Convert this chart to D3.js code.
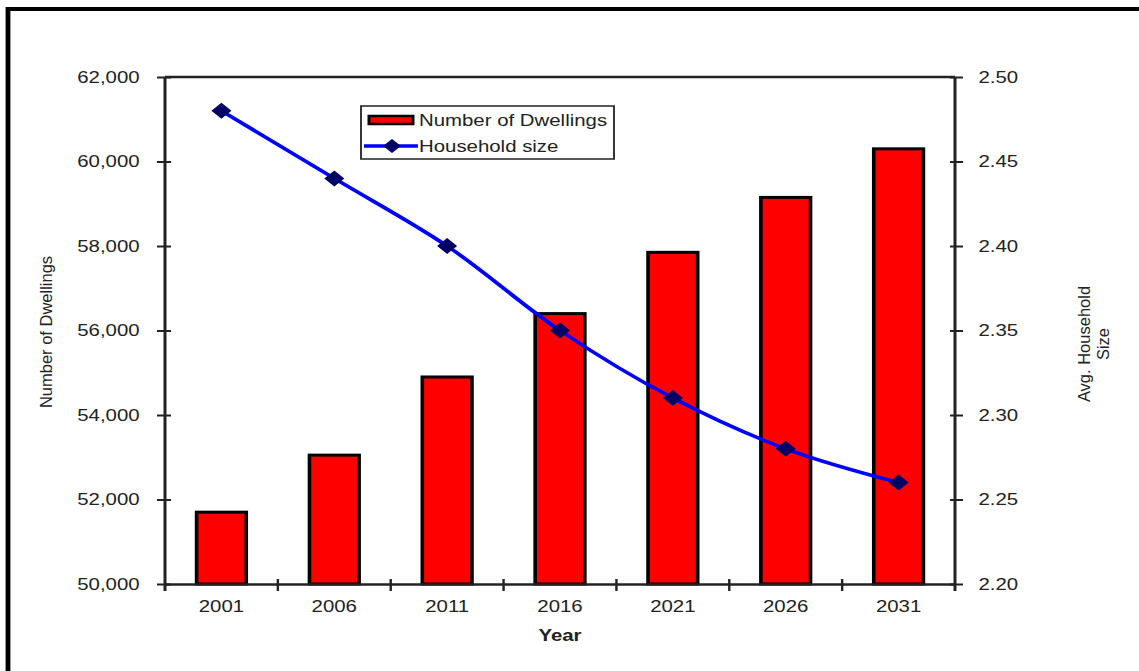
<!DOCTYPE html>
<html>
<head>
<meta charset="utf-8">
<script src="https://cdn.jsdelivr.net/npm/d3@7"></script>
<style>
  html, body { margin: 0; padding: 0; background: #fff; }
  svg { display: block; }
  text { font-family: "Liberation Sans", Arial, sans-serif; fill: #222; }
</style>
</head>
<body>
<div id="chart"></div>
<script>
// Projected dwellings and average household size, 2001–2031
const years = ["2001", "2006", "2011", "2016", "2021", "2026", "2031"];
const dwellings = [51700, 53050, 54900, 56400, 57850, 59150, 60300];
const householdSize = [2.48, 2.44, 2.40, 2.35, 2.31, 2.28, 2.26];
const leftTicks = [50000, 52000, 54000, 56000, 58000, 60000, 62000];
const rightTicks = [2.20, 2.25, 2.30, 2.35, 2.40, 2.45, 2.50];
const seriesNames = ["Number of Dwellings", "Household size"];

const W = 1139, H = 671;
const SX = 1.2;               // horizontal stretch of the whole drawing
const vx = px => px / SX;     // page pixels -> drawing units (x only)

const svg = d3.select("#chart").append("svg")
  .attr("width", W).attr("height", H)
  .attr("viewBox", `0 0 ${W / SX} ${H}`)
  .attr("preserveAspectRatio", "none");

// outer frame
svg.append("rect")
  .attr("x", vx(8)).attr("y", 9)
  .attr("width", vx(W + 20)).attr("height", H + 20)
  .attr("fill", "none").attr("stroke", "#000").attr("stroke-width", 4);

const plot = { left: vx(165), right: vx(955), top: 77, bottom: 584 };

const x = d3.scaleBand().domain(years).range([plot.left, plot.right])
  .paddingInner(0.56).paddingOuter(0.28);
const xb = d3.scaleBand().domain(years).range([plot.left, plot.right]);
const yL = d3.scaleLinear().domain([50000, 62000]).range([plot.bottom, plot.top]);
const yR = d3.scaleLinear().domain([2.20, 2.50]).range([plot.bottom, plot.top]);

const axisColor = "#222";
const tickFont = 17;

// plot area top edge
svg.append("line")
  .attr("x1", plot.left).attr("x2", plot.right)
  .attr("y1", plot.top).attr("y2", plot.top)
  .attr("stroke", axisColor).attr("stroke-width", 2.5);

// bars
svg.append("g").selectAll("rect").data(years).join("rect")
  .attr("x", d => x(d))
  .attr("width", x.bandwidth())
  .attr("y", (d, i) => yL(dwellings[i]))
  .attr("height", (d, i) => plot.bottom - yL(dwellings[i]))
  .attr("fill", "#ff0000")
  .attr("stroke", "#000").attr("stroke-width", 3);

// axes
const fmt = d3.format(",");
const gL = svg.append("g").attr("transform", `translate(${plot.left},0)`)
  .call(d3.axisLeft(yL).tickValues(leftTicks).tickFormat(fmt).tickSizeOuter(0).tickSize(7).tickPadding(vx(17)));
const gR = svg.append("g").attr("transform", `translate(${plot.right},0)`)
  .call(d3.axisRight(yR).tickValues(rightTicks).tickFormat(d3.format(".2f")).tickSizeOuter(0).tickSize(7).tickPadding(vx(15)));
const gB = svg.append("g").attr("transform", `translate(0,${plot.bottom})`)
  .call(d3.axisBottom(xb).tickSize(0).tickPadding(16));

[gL, gR, gB].forEach(g => {
  g.select(".domain").attr("stroke", axisColor).attr("stroke-width", 2.5);
  g.selectAll("line").attr("stroke", axisColor).attr("stroke-width", 2);
  g.selectAll("text").attr("font-size", tickFont).attr("fill", "#222")
    .attr("font-family", "'Liberation Sans', Arial, sans-serif");
});
gL.selectAll(".tick line").attr("x1", vx(6)).attr("x2", vx(-8));
gR.selectAll(".tick line").attr("x1", vx(-5)).attr("x2", vx(8));
gL.select(".domain").attr("d", `M0,${plot.top}V${plot.bottom + 7}`);
gR.select(".domain").attr("d", `M0,${plot.top}V${plot.bottom + 7}`);

// category separators on the x axis
svg.append("g").selectAll("line").data(years.slice(1)).join("line")
  .attr("x1", d => xb(d)).attr("x2", d => xb(d))
  .attr("y1", plot.bottom - 5).attr("y2", plot.bottom + 7)
  .attr("stroke", axisColor).attr("stroke-width", 2);

// household size line
const cx = d => x(d) + x.bandwidth() / 2;
const line = d3.line()
  .x((d, i) => cx(years[i]))
  .y(d => yR(d))
  .curve(d3.curveCatmullRom.alpha(0.5));
svg.append("path").datum(householdSize)
  .attr("d", line)
  .attr("fill", "none").attr("stroke", "#0000ff").attr("stroke-width", 3.5);

const diamond = (hw, hh) => `M0,${-hh}L${hw},0L0,${hh}L${-hw},0Z`;
svg.append("g").selectAll("path").data(householdSize).join("path")
  .attr("transform", (d, i) => `translate(${cx(years[i])},${yR(d)})`)
  .attr("d", diamond(vx(10), 8))
  .attr("fill", "#000066");

// axis titles
svg.append("text")
  .attr("x", vx(560)).attr("y", 641)
  .attr("text-anchor", "middle").attr("font-size", tickFont).attr("font-weight", "bold")
  .text("Year");

// vertical titles are drawn without the horizontal stretch
svg.append("text")
  .attr("transform", `translate(${vx(52)},332) scale(${1 / SX},1) rotate(-90)`)
  .attr("text-anchor", "middle").attr("font-size", 16.5)
  .text("Number of Dwellings");

const rt = svg.append("text")
  .attr("transform", `translate(${vx(1090)},344) scale(${1 / SX},1) rotate(-90)`)
  .attr("text-anchor", "middle").attr("font-size", 16.5);
rt.append("tspan").attr("x", 0).attr("dy", 0).text("Avg. Household");
rt.append("tspan").attr("x", 0).attr("dy", 19).text("Size");

// legend
const lg = svg.append("g");
lg.append("rect")
  .attr("x", vx(361)).attr("y", 106)
  .attr("width", vx(614) - vx(361)).attr("height", 53)
  .attr("fill", "#fff").attr("stroke", "#222").attr("stroke-width", 1.5);
lg.append("rect")
  .attr("x", vx(369)).attr("y", 116)
  .attr("width", vx(44)).attr("height", 8)
  .attr("fill", "#ff0000").attr("stroke", "#000").attr("stroke-width", 2.5);
lg.append("text").attr("x", vx(419)).attr("y", 126)
  .attr("font-size", tickFont).text(seriesNames[0]);
lg.append("line")
  .attr("x1", vx(364)).attr("x2", vx(418))
  .attr("y1", 146).attr("y2", 146)
  .attr("stroke", "#0000ff").attr("stroke-width", 3.5);
lg.append("path")
  .attr("transform", `translate(${vx(392)},146)`)
  .attr("d", diamond(vx(9), 7))
  .attr("fill", "#000066");
lg.append("text").attr("x", vx(419)).attr("y", 152)
  .attr("font-size", tickFont).text(seriesNames[1]);
</script>
</body>
</html>
